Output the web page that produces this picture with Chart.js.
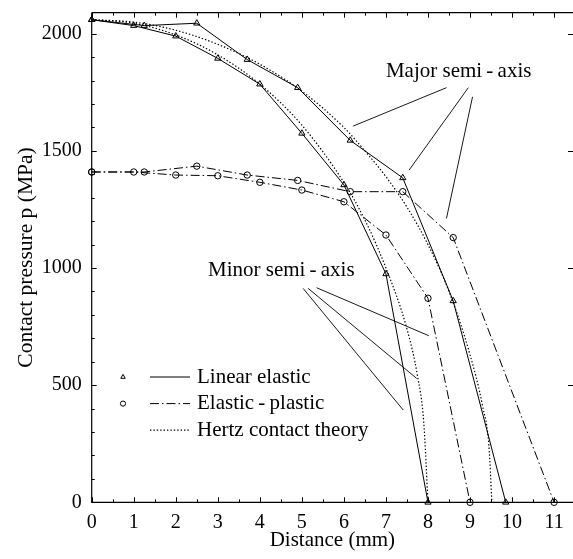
<!DOCTYPE html>
<html>
<head>
<meta charset="utf-8">
<script src="https://cdn.jsdelivr.net/npm/chart.js@4/dist/chart.umd.min.js"></script>
<style>
  html, body { margin: 0; padding: 0; background: #fff; }
  canvas { display: block; }
</style>
</head>
<body>
<canvas id="c" width="573" height="559"></canvas>
<script>
const FONT = "'Liberation Serif', serif";

// Contact pressure (MPa) against distance from the contact centre (mm)
const linMajorX = [0, 1.25, 2.5, 3.7, 4.9, 6.15, 7.4, 8.6, 9.85];
const linMajorP = [2060, 2035, 2045, 1890, 1770, 1545, 1385, 860, 0];
const linMinorX = [0, 1, 2, 3, 4, 5, 6, 7, 8];
const linMinorP = [2060, 2035, 1990, 1895, 1785, 1575, 1355, 975, 0];

const epMajorX = [0, 1.25, 2.5, 3.7, 4.9, 6.15, 7.4, 8.6, 11];
const epMajorP = [1410, 1410, 1435, 1397, 1374, 1326, 1326, 1130, 0];
const epMinorX = [0, 1, 2, 3, 4, 5, 6, 7, 8, 9];
const epMinorP = [1410, 1410, 1397, 1394, 1366, 1333, 1283, 1141, 871, 0];

const hzMajorX = [0, 1, 2, 3, 4, 5, 6, 6.5, 7, 7.5, 8, 8.5, 9, 9.3, 9.45, 9.52];
const hzMajorP = [2060, 2050, 2015, 1955, 1870, 1755, 1600, 1500, 1390, 1260, 1100, 900, 630, 410, 240, 0];
const hzMinorX = [0, 1, 2, 3, 4, 5, 6, 6.5, 7, 7.5, 7.75, 7.9, 8];
const hzMinorP = [2060, 2045, 1995, 1910, 1785, 1610, 1365, 1205, 1000, 740, 540, 340, 0];

// Axis tick labels
const xTicks = [0, 1, 2, 3, 4, 5, 6, 7, 8, 9, 10, 11];
const yTicks = [0, 500, 1000, 1500, 2000];

// Pointer lines from the annotations to the curves: [x0, p0, x1, p1]
const majorPointers = [[8.44, 1770, 6.22, 1606], [8.96, 1770, 7.55, 1418], [9.06, 1731, 8.44, 1212]];
const minorPointers = [[5.35, 916, 8.02, 711], [5.15, 913, 7.73, 529], [5.03, 913, 7.41, 394]];

// Annotation captions, anchored in data units
const notes = [
  { text: 'Major semi\u2009-\u2009axis', x: 8.73, y: 1841 },
  { text: 'Minor semi\u2009-\u2009axis', x: 4.51, y: 990 }
];

const zip = (xs, ys) => xs.map((x, i) => ({ x, y: ys[i] }));

const DASH_DOT = [9, 3, 1.5, 3];
const DOTTED = [1.4, 2];

function curve(xs, ys, dash, style) {
  return {
    data: zip(xs, ys),
    showLine: true,
    borderColor: '#000',
    borderWidth: dash === DOTTED ? 1.2 : 1,
    borderDash: dash,
    pointStyle: style || 'circle',
    pointRadius: style ? (style === 'triangle' ? 3.6 : 3.2) : 0,
    pointHoverRadius: 0,
    pointBorderWidth: 1,
    pointBorderColor: '#000',
    pointBackgroundColor: 'rgba(0,0,0,0)',
    clip: false
  };
}

function pointer(seg) {
  return {
    data: [{ x: seg[0], y: seg[1] }, { x: seg[2], y: seg[3] }],
    showLine: true,
    borderColor: '#000',
    borderWidth: 0.9,
    pointRadius: 0,
    pointHoverRadius: 0
  };
}

const datasets = [
  curve(linMajorX, linMajorP, [], 'triangle'),
  curve(linMinorX, linMinorP, [], 'triangle'),
  curve(epMajorX, epMajorP, DASH_DOT, 'circle'),
  curve(epMinorX, epMinorP, DASH_DOT, 'circle'),
  Object.assign(curve(hzMajorX, hzMajorP, DOTTED), { cubicInterpolationMode: 'monotone' }),
  Object.assign(curve(hzMinorX, hzMinorP, DOTTED), { cubicInterpolationMode: 'monotone' }),
  ...majorPointers.map(pointer),
  ...minorPointers.map(pointer)
];

// Frame with inward ticks on all four sides
const framePlugin = {
  id: 'frame',
  afterDatasetsDraw(chart) {
    const { ctx, chartArea: a, scales: { x, y } } = chart;
    ctx.save();
    ctx.strokeStyle = '#000';
    ctx.lineWidth = 1.2;
    ctx.beginPath();
    ctx.moveTo(a.left, a.top);
    ctx.lineTo(a.right + 1, a.top);
    ctx.moveTo(a.left, a.top);
    ctx.lineTo(a.left, a.bottom);
    ctx.lineTo(a.right + 1, a.bottom);
    ctx.stroke();

    ctx.lineWidth = 1;
    ctx.beginPath();
    for (let v = 0; v <= 11.001; v += 0.5) {
      const px = Math.round(x.getPixelForValue(v)) + 0.5;
      const len = Math.abs(v - Math.round(v)) < 1e-6 ? 5 : 3;
      ctx.moveTo(px, a.bottom); ctx.lineTo(px, a.bottom - len);
      ctx.moveTo(px, a.top); ctx.lineTo(px, a.top + len);
    }
    for (let v = 0; v <= 2000; v += 100) {
      const py = Math.round(y.getPixelForValue(v)) + 0.5;
      const major = v % 500 === 0;
      const len = major ? 5 : 3;
      ctx.moveTo(a.left, py); ctx.lineTo(a.left + len, py);
      if (major) { ctx.moveTo(a.right, py); ctx.lineTo(a.right - len, py); }
    }
    ctx.stroke();
    ctx.restore();
  }
};

// Captions for the two groups of curves
const notesPlugin = {
  id: 'notes',
  afterDatasetsDraw(chart) {
    const { ctx, scales: { x, y } } = chart;
    ctx.save();
    ctx.fillStyle = '#000';
    ctx.font = '21px ' + FONT;
    ctx.textAlign = 'center';
    ctx.textBaseline = 'middle';
    notes.forEach(n => ctx.fillText(n.text, x.getPixelForValue(n.x), y.getPixelForValue(n.y)));
    ctx.restore();
  }
};

// Key: marker, line sample and label for each model
const keyPlugin = {
  id: 'key',
  afterDatasetsDraw(chart) {
    const { ctx } = chart;
    const rows = [
      { label: 'Linear elastic', marker: 'triangle', dash: [] },
      { label: 'Elastic\u2009-\u2009plastic', marker: 'circle', dash: DASH_DOT },
      { label: 'Hertz contact theory', marker: null, dash: DOTTED }
    ];
    ctx.save();
    ctx.strokeStyle = '#000';
    ctx.font = '21px ' + FONT;
    ctx.textBaseline = 'middle';
    rows.forEach((r, i) => {
      const yy = 377 + i * 26.6;
      if (r.marker) {
        ctx.fillStyle = 'rgba(0,0,0,0)';
        ctx.lineWidth = 1;
        Chart.helpers.drawPoint(ctx, { pointStyle: r.marker, radius: 2.6, borderWidth: 1 }, 123, yy);
      }
      ctx.lineWidth = r.dash === DOTTED ? 1.2 : 1;
      ctx.setLineDash(r.dash);
      ctx.beginPath();
      ctx.moveTo(150, yy); ctx.lineTo(190, yy);
      ctx.stroke();
      ctx.setLineDash([]);
      ctx.fillStyle = '#000';
      ctx.fillText(r.label, 197, yy);
    });
    ctx.restore();
  }
};

new Chart(document.getElementById('c'), {
  type: 'scatter',
  data: { datasets },
  options: {
    responsive: false,
    animation: false,
    devicePixelRatio: 1,
    events: [],
    layout: { autoPadding: false, padding: { top: 12.7, right: 0, left: 0, bottom: 0 } },
    plugins: { legend: { display: false }, tooltip: { enabled: false } },
    scales: {
      x: {
        type: 'linear', min: 0, max: 11.45,
        afterBuildTicks: s => { s.ticks = xTicks.map(v => ({ value: v })); },
        afterFit: s => { s.height = 56.7; s.paddingLeft = 0; s.paddingRight = 0; },
        grid: { display: false, drawTicks: false },
        border: { display: false },
        ticks: { color: '#000', font: { family: FONT, size: 20 }, padding: 8, maxRotation: 0, autoSkip: false, callback: v => String(v) },
        title: { display: true, text: 'Distance (mm)', color: '#000', font: { family: FONT, size: 21 }, padding: { top: 0, bottom: 6 } }
      },
      y: {
        type: 'linear', min: 0, max: 2090,
        afterBuildTicks: s => { s.ticks = yTicks.map(v => ({ value: v })); },
        afterFit: s => { s.width = 91.7; s.paddingTop = 0; s.paddingBottom = 0; },
        grid: { display: false, drawTicks: false },
        border: { display: false },
        ticks: { color: '#000', font: { family: FONT, size: 20 }, padding: 10, autoSkip: false, callback: v => String(v) },
        title: { display: true, text: 'Contact pressure p (MPa)', color: '#000', font: { family: FONT, size: 21.5 }, padding: { top: 13, bottom: 0 } }
      }
    }
  },
  plugins: [framePlugin, notesPlugin, keyPlugin]
});
</script>
</body>
</html>
